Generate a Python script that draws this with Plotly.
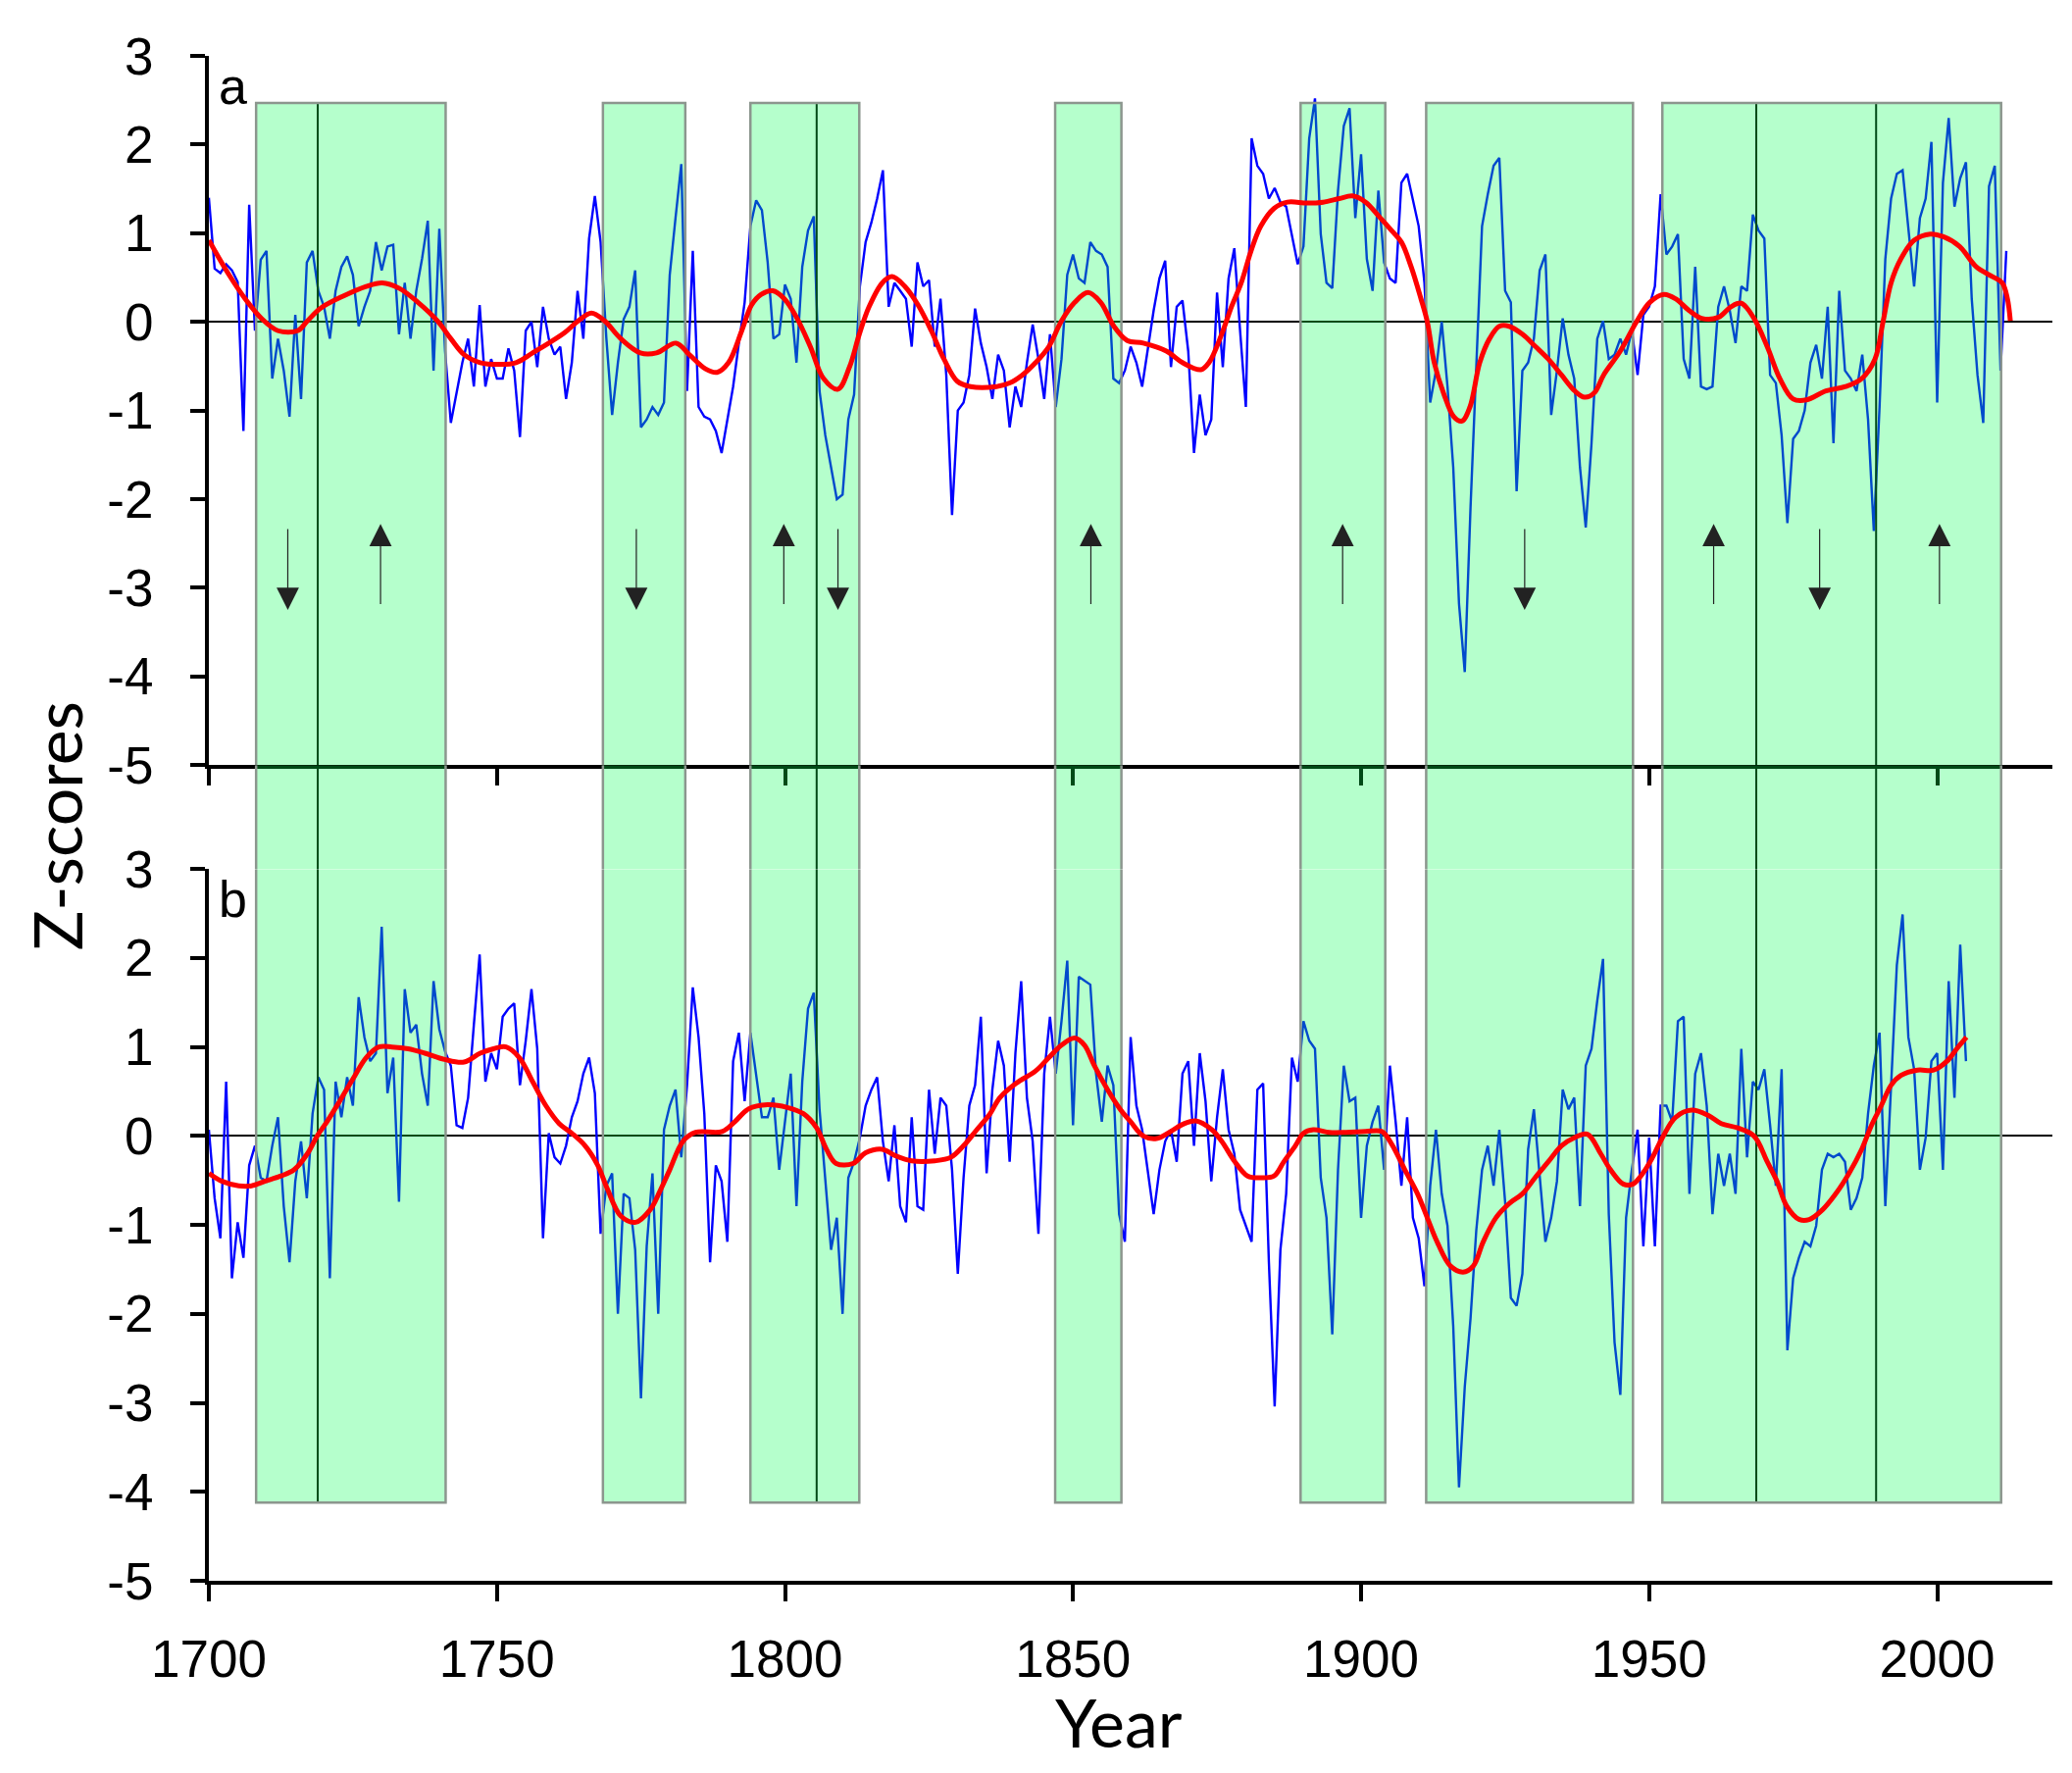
import plotly.graph_objects as go
from plotly.subplots import make_subplots

# annual z-scores, panel a (1700-2012) and panel b (1700-2005)
years_a = list(range(1700, 2013))
z_a = [
    1.40, 0.60, 0.55, 0.65, 0.58, 0.45, -1.23, 1.32, -0.10, 0.70,
    0.80, -0.64, -0.19, -0.55, -1.07, 0.08, -0.87, 0.67, 0.80, 0.35,
    0.17, -0.19, 0.35, 0.62, 0.74, 0.53, -0.05, 0.17, 0.35, 0.90,
    0.58, 0.85, 0.87, -0.14, 0.44, -0.19, 0.35, 0.71, 1.14, -0.55,
    1.05, -0.33, -1.14, -0.82, -0.46, -0.19, -0.73, 0.19, -0.73, -0.42,
    -0.64, -0.64, -0.30, -0.55, -1.30, -0.10, 0.00, -0.51, 0.17, -0.19,
    -0.37, -0.28, -0.87, -0.46, 0.35, -0.19, 0.94, 1.42, 0.90, -0.19,
    -1.05, -0.46, 0.03, 0.17, 0.58, -1.19, -1.10, -0.96, -1.05, -0.91,
    0.53, 1.17, 1.78, -0.78, 0.80, -0.96, -1.07, -1.10, -1.23, -1.48,
    -1.10, -0.73, -0.24, 0.22, 1.08, 1.37, 1.26, 0.67, -0.19, -0.14,
    0.42, 0.26, -0.46, 0.62, 1.03, 1.19, -0.78, -1.28, -1.64, -2.00,
    -1.95, -1.10, -0.82, 0.40, 0.90, 1.12, 1.39, 1.71, 0.17, 0.44,
    0.35, 0.26, -0.28, 0.67, 0.40, 0.47, -0.28, 0.26, -0.60, -2.18,
    -1.00, -0.91, -0.60, 0.15, -0.24, -0.51, -0.87, -0.37, -0.55, -1.19,
    -0.73, -0.96, -0.46, -0.03, -0.42, -0.87, -0.14, -0.96, -0.42, 0.53,
    0.76, 0.49, 0.44, 0.90, 0.80, 0.76, 0.62, -0.64, -0.69, -0.55,
    -0.28, -0.46, -0.73, -0.28, 0.13, 0.49, 0.69, -0.51, 0.17, 0.24,
    -0.33, -1.48, -0.82, -1.28, -1.10, 0.33, -0.51, 0.49, 0.83, -0.10,
    -0.96, 2.07, 1.76, 1.67, 1.39, 1.51, 1.35, 1.30, 0.99, 0.65,
    0.85, 2.07, 2.52, 0.99, 0.44, 0.38, 1.48, 2.21, 2.41, 1.17,
    1.89, 0.71, 0.35, 1.48, 0.67, 0.49, 0.44, 1.57, 1.67, 1.39,
    1.08, 0.44, -0.91, -0.55, 0.00, -0.73, -1.64, -3.18, -3.95, -2.09,
    -0.55, 1.08, 1.44, 1.76, 1.85, 0.35, 0.22, -1.91, -0.55, -0.46,
    -0.19, 0.58, 0.76, -1.05, -0.55, 0.04, -0.37, -0.64, -1.64, -2.32,
    -1.37, -0.19, 0.01, -0.42, -0.37, -0.19, -0.37, -0.10, -0.60, 0.08,
    0.17, 0.40, 1.44, 0.76, 0.85, 0.99, -0.42, -0.64, 0.62, -0.73,
    -0.76, -0.73, 0.17, 0.40, 0.13, -0.24, 0.40, 0.35, 1.21, 1.03,
    0.94, -0.60, -0.69, -1.28, -2.27, -1.32, -1.23, -1.00, -0.46, -0.26,
    -0.64, 0.17, -1.37, 0.35, -0.55, -0.64, -0.78, -0.37, -1.10, -2.36,
    -0.96, 0.71, 1.39, 1.67, 1.71, 1.08, 0.40, 1.17, 1.39, 2.03,
    -0.91, 1.57, 2.30, 1.30, 1.62, 1.80, 0.26, -0.60, -1.14, 1.53,
    1.76, -0.55, 0.80,
]

years_b = list(range(1700, 2006))
z_b = [
    0.07, -0.70, -1.15, 0.61, -1.60, -0.97, -1.37, -0.33, -0.11, -0.47,
    -0.51, -0.11, 0.21, -0.79, -1.42, -0.51, -0.06, -0.70, 0.25, 0.66,
    0.52, -1.60, 0.61, 0.21, 0.66, 0.34, 1.56, 1.11, 0.84, 0.93,
    2.35, 0.48, 0.88, -0.74, 1.65, 1.16, 1.25, 0.70, 0.34, 1.74,
    1.20, 0.95, 0.79, 0.12, 0.09, 0.43, 1.25, 2.04, 0.61, 0.93,
    0.75, 1.34, 1.43, 1.49, 0.57, 1.07, 1.65, 0.98, -1.15, 0.03,
    -0.24, -0.31, -0.11, 0.21, 0.39, 0.70, 0.88, 0.48, -1.10, -0.56,
    -0.42, -2.00, -0.65, -0.70, -1.28, -2.95, -1.24, -0.42, -2.00, 0.07,
    0.34, 0.52, -0.24, 0.57, 1.67, 1.11, 0.25, -1.42, -0.33, -0.51,
    -1.19, 0.84, 1.16, 0.39, 1.16, 0.70, 0.21, 0.21, 0.43, -0.38,
    0.16, 0.70, -0.79, 0.61, 1.43, 1.61, 0.30, -0.47, -1.28, -0.92,
    -2.00, -0.47, -0.29, -0.02, 0.34, 0.52, 0.66, -0.06, -0.51, 0.12,
    -0.79, -0.97, 0.21, -0.79, -0.83, 0.52, -0.20, 0.43, 0.34, -0.38,
    -1.55, -0.47, 0.34, 0.57, 1.34, -0.42, 0.52, 1.07, 0.79, -0.29,
    0.93, 1.74, 0.43, -0.06, -1.10, 0.70, 1.34, 0.70, 1.29, 1.97,
    0.12, 1.79, 1.74, 1.70, 0.70, 0.16, 0.79, 0.57, -0.88, -1.19,
    1.11, 0.34, 0.07, -0.38, -0.88, -0.38, -0.06, 0.07, -0.29, 0.70,
    0.84, -0.11, 0.93, 0.39, -0.51, 0.21, 0.75, 0.07, -0.20, -0.83,
    -1.01, -1.19, 0.52, 0.59, -1.42, -3.04, -1.28, -0.65, 0.88, 0.61,
    1.29, 1.07, 0.98, -0.47, -0.92, -2.23, -0.38, 0.79, 0.39, 0.43,
    -0.92, -0.11, 0.16, 0.34, -0.38, 0.79, 0.16, -0.56, 0.21, -0.92,
    -1.15, -1.69, -0.56, 0.07, -0.65, -1.01, -2.14, -3.95, -2.82, -2.05,
    -1.06, -0.38, -0.11, -0.56, 0.07, -0.74, -1.82, -1.91, -1.55, -0.15,
    0.30, -0.47, -1.19, -0.92, -0.51, 0.52, 0.30, 0.43, -0.79, 0.79,
    0.98, 1.52, 1.99, -0.88, -2.32, -2.91, -0.92, -0.38, 0.07, -1.24,
    -0.02, -1.24, 0.34, 0.34, 0.16, 1.29, 1.34, -0.65, 0.70, 0.93,
    0.34, -0.88, -0.20, -0.56, -0.20, -0.65, 0.98, -0.24, 0.61, 0.52,
    0.75, 0.12, -0.56, 0.75, -2.41, -1.60, -1.37, -1.19, -1.24, -1.01,
    -0.38, -0.20, -0.24, -0.20, -0.29, -0.83, -0.70, -0.47, 0.25, 0.79,
    1.16, -0.79, 0.61, 1.92, 2.49, 1.11, 0.75, -0.38, -0.02, 0.84,
    0.93, -0.38, 1.74, 0.43, 2.15, 0.84,
]

# smoothed (low-pass) curves: (year, value)
smooth_a_pts = [
    (1700, 0.92), (1703.5, 0.53), (1706.3, 0.26), (1709.1, 0.04), (1712, -0.10),
    (1715.4, -0.10), (1717.1, 0.01), (1719.3, 0.15), (1723.3, 0.29), (1727.3, 0.40),
    (1730.1, 0.44), (1733, 0.38), (1736.3, 0.22), (1739.7, 0.01), (1742, -0.19),
    (1744.3, -0.37), (1747.1, -0.46), (1750.5, -0.48), (1753.3, -0.46), (1756.2, -0.35),
    (1759, -0.24), (1761.8, -0.12), (1764.1, 0.01), (1766.4, 0.10), (1768.7, 0.01),
    (1771.5, -0.19), (1774.9, -0.35), (1777.7, -0.35), (1781.1, -0.24), (1783.4, -0.37),
    (1786.2, -0.53), (1788.2, -0.57), (1790.2, -0.46), (1792.5, -0.10), (1794.2, 0.19),
    (1795.9, 0.31), (1797.9, 0.35), (1799.9, 0.26), (1802.1, 0.04), (1804.4, -0.28),
    (1806.7, -0.64), (1809.2, -0.76), (1811.2, -0.51), (1812.9, -0.14), (1814.6, 0.17),
    (1816.9, 0.44), (1818.6, 0.51), (1820.8, 0.40), (1823.1, 0.19), (1825.4, -0.10),
    (1827.6, -0.42), (1829.9, -0.67), (1832.2, -0.73), (1836.7, -0.73), (1839, -0.69),
    (1841.2, -0.60), (1843.5, -0.46), (1845.8, -0.28), (1848, 0.01), (1850.3, 0.22),
    (1852.6, 0.33), (1854.8, 0.22), (1857.1, -0.05), (1859.4, -0.21), (1862.2, -0.24),
    (1866.2, -0.33), (1869, -0.46), (1872.2, -0.54), (1873.6, -0.46), (1875.8, -0.14),
    (1877.5, 0.17), (1879.2, 0.44), (1880.9, 0.80), (1882.6, 1.08), (1884.9, 1.28),
    (1887.2, 1.35), (1890.6, 1.34), (1893.4, 1.35), (1896.2, 1.39), (1898.5, 1.42),
    (1900.8, 1.35), (1903.1, 1.19), (1905.3, 1.03), (1907, 0.90), (1908.7, 0.62),
    (1910.4, 0.26), (1911.5, 0.00), (1912.7, -0.46), (1914.4, -0.82), (1916.1, -1.07),
    (1917.5, -1.12), (1918.9, -0.96), (1920.6, -0.46), (1922.3, -0.19), (1924, -0.05),
    (1925.7, -0.05), (1928, -0.14), (1930.3, -0.28), (1932.5, -0.42), (1934.8, -0.60),
    (1937.1, -0.78), (1938.8, -0.85), (1940.5, -0.80), (1942.1, -0.60), (1945, -0.33),
    (1947.8, 0.00), (1950.1, 0.22), (1952.6, 0.31), (1954.6, 0.26), (1956.9, 0.13),
    (1959.1, 0.04), (1962, 0.05), (1964.2, 0.17), (1966, 0.21), (1968.2, 0.04),
    (1970.5, -0.28), (1972.7, -0.64), (1975, -0.87), (1977.3, -0.88), (1980.7, -0.78),
    (1984.1, -0.73), (1986.9, -0.64), (1989.2, -0.42), (1990.6, 0.00), (1992, 0.44),
    (1993.7, 0.71), (1996, 0.92), (1998.8, 0.99), (2001.1, 0.96), (2003.9, 0.85),
    (2006.8, 0.62), (2009.6, 0.51), (2011.3, 0.44), (2012.2, 0.26), (2012.7, 0.01),
]

smooth_b_pts = [
    (1700, -0.42), (1702.3, -0.51), (1705.2, -0.56), (1707.4, -0.56), (1709.7, -0.51),
    (1712.5, -0.45), (1714.8, -0.38), (1717.1, -0.20), (1718.8, 0.00), (1720.5, 0.16),
    (1722.7, 0.39), (1725, 0.64), (1727.3, 0.88), (1729.5, 1.00), (1731.8, 1.00),
    (1734.6, 0.98), (1737.5, 0.93), (1740.9, 0.86), (1744.3, 0.83), (1747.1, 0.93),
    (1749.4, 0.98), (1751.6, 1.00), (1753.9, 0.88), (1756.2, 0.61), (1758.5, 0.34),
    (1760.8, 0.14), (1763, 0.03), (1765.3, -0.11), (1767.5, -0.33), (1769.2, -0.60),
    (1771.5, -0.90), (1774.1, -0.97), (1776.6, -0.83), (1778.3, -0.62), (1780, -0.38),
    (1782.3, -0.06), (1784.5, 0.04), (1789.1, 0.05), (1791.3, 0.16), (1793.6, 0.30),
    (1797, 0.35), (1800.4, 0.32), (1803.2, 0.25), (1805.5, 0.09), (1807.2, -0.15),
    (1808.9, -0.31), (1811.8, -0.31), (1814, -0.19), (1816.9, -0.15), (1819.1, -0.22),
    (1822, -0.28), (1826, -0.28), (1828.8, -0.24), (1831, -0.11), (1833.3, 0.07),
    (1835.6, 0.25), (1837.3, 0.43), (1840.1, 0.59), (1843.5, 0.73), (1845.8, 0.88),
    (1848, 1.02), (1850.3, 1.10), (1852, 1.02), (1853.7, 0.79), (1856, 0.52),
    (1858.2, 0.30), (1860, 0.16), (1862.2, 0.00), (1864.5, -0.03), (1866.7, 0.04),
    (1869, 0.13), (1871.3, 0.17), (1874.1, 0.07), (1875.8, -0.06), (1878.1, -0.29),
    (1880.3, -0.45), (1882.6, -0.47), (1884.9, -0.45), (1886.6, -0.29), (1888.6, -0.11),
    (1890, 0.03), (1891.7, 0.07), (1894.5, 0.04), (1897.4, 0.04), (1900.8, 0.05),
    (1903.6, 0.05), (1905.3, -0.09), (1907.6, -0.38), (1909.8, -0.65), (1911.5, -0.92),
    (1913.2, -1.19), (1915.5, -1.46), (1917.7, -1.53), (1919.5, -1.46), (1921.2, -1.19),
    (1923.4, -0.92), (1925.7, -0.76), (1928, -0.65), (1930.2, -0.47), (1932.5, -0.29),
    (1934.8, -0.11), (1937, -0.02), (1939.3, 0.02), (1941.6, -0.20), (1943.3, -0.38),
    (1945.5, -0.54), (1947.2, -0.54), (1948.9, -0.42), (1950.6, -0.24), (1952.3, -0.02),
    (1954.6, 0.21), (1957.4, 0.29), (1960.3, 0.23), (1962.5, 0.14), (1965.4, 0.09),
    (1968.2, 0.00), (1970.5, -0.29), (1972.2, -0.51), (1973.9, -0.79), (1976.1, -0.94),
    (1977.8, -0.94), (1980.1, -0.83), (1982.4, -0.65), (1984.7, -0.42), (1986.9, -0.15),
    (1988.6, 0.12), (1990.3, 0.34), (1992, 0.57), (1993.7, 0.68), (1996.6, 0.74),
    (1999.4, 0.74), (2001.7, 0.84), (2003.4, 0.98), (2005.1, 1.11),
]

# shaded periods and the sub-period dividers
band_start = [1708.2, 1768.4, 1794.0, 1846.9, 1889.5, 1911.3, 1952.3]
band_end = [1741.1, 1782.7, 1812.9, 1858.4, 1904.2, 1947.2, 2011.1]
band_split = [1718.9, 1805.5, 1968.6, 1989.4]

# arrows in panel a
arrow_up_years = [1729.8, 1799.8, 1853.1, 1896.8, 1961.2, 2000.4]
arrow_down_years = [1713.7, 1774.2, 1809.2, 1928.4, 1979.6]

x_tick_vals = [1700, 1750, 1800, 1850, 1900, 1950, 2000]
y_tick_vals = [-5, -4, -3, -2, -1, 0, 1, 2, 3]
y_tick_text = ["-5", "-4", "-3", "-2", "-1", "0", "1", "2", "3"]

BAND_FILL = "rgba(0,255,79,0.29)"
BAND_EDGE = "#8c968e"
TICK_FONT = dict(family="Liberation Sans, Arial", size=53, color="black")
TITLE_FONT = dict(family="Lato", size=68, color="black")

# row 1 = panel a, row 2 = gap the bands run through, row 3 = panel b
fig = make_subplots(rows=3, cols=1, row_heights=[723.4, 106, 726], vertical_spacing=0)

# vertical extent of the shading in each row (data units of that row)
extent = {1: (-5, 2.47), 2: (0, 1), 3: (-4.12, 3)}


def band_fill(lo, hi):
    xs, ys = [], []
    for x0, x1 in zip(band_start, band_end):
        xs += [x0, x0, x1, x1, x0, None]
        ys += [lo, hi, hi, lo, lo, None]
    return xs, ys


def band_edges(row, lo, hi):
    xs, ys = [], []
    for x0, x1 in zip(band_start, band_end):
        if row == 1:
            xs += [x0, x0, x1, x1, None]
            ys += [lo, hi, hi, lo, None]
        elif row == 3:
            xs += [x0, x0, x1, x1, None]
            ys += [hi, lo, lo, hi, None]
        else:
            xs += [x0, x0, None, x1, x1, None]
            ys += [lo, hi, None, lo, hi, None]
    return xs, ys


def splits(lo, hi):
    xs, ys = [], []
    for s in band_split:
        xs += [s, s, None]
        ys += [lo, hi, None]
    return xs, ys


for row in (1, 2, 3):
    lo, hi = extent[row]
    if row == 1:
        fig.add_trace(go.Scatter(x=years_a, y=z_a, mode="lines",
                                 line=dict(color="#0000ff", width=2.4)), row=1, col=1)
    if row == 3:
        fig.add_trace(go.Scatter(x=years_b, y=z_b, mode="lines",
                                 line=dict(color="#0000ff", width=2.4)), row=3, col=1)

    sx, sy = splits(lo, hi)
    fig.add_trace(go.Scatter(x=sx, y=sy, mode="lines",
                             line=dict(color="black", width=2)), row=row, col=1)

    fx, fy = band_fill(lo, hi)
    fig.add_trace(go.Scatter(x=fx, y=fy, mode="lines", fill="toself", fillcolor=BAND_FILL,
                             line=dict(width=0)), row=row, col=1)

    ex, ey = band_edges(row, lo, hi)
    fig.add_trace(go.Scatter(x=ex, y=ey, mode="lines",
                             line=dict(color=BAND_EDGE, width=2.5)), row=row, col=1)

    if row == 1:
        fig.add_trace(go.Scatter(x=[p[0] for p in smooth_a_pts], y=[p[1] for p in smooth_a_pts],
                                 mode="lines", line=dict(color="#ff0000", width=5, shape="spline")),
                      row=1, col=1)
    if row == 3:
        fig.add_trace(go.Scatter(x=[p[0] for p in smooth_b_pts], y=[p[1] for p in smooth_b_pts],
                                 mode="lines", line=dict(color="#ff0000", width=5, shape="spline")),
                      row=3, col=1)

axis_common = dict(showgrid=False, showline=True, linecolor="black", linewidth=4,
                   ticks="outside", tickcolor="black", tickwidth=3.5)

fig.update_xaxes(range=[1700, 2020], zeroline=False, tickvals=x_tick_vals, ticklen=17,
                 **axis_common)
fig.update_xaxes(showticklabels=False, layer="below traces", row=1, col=1)
fig.update_xaxes(visible=False, row=2, col=1)
fig.update_xaxes(showticklabels=True, tickfont=TICK_FONT, ticklabelstandoff=13, row=3, col=1)

fig.update_yaxes(range=[-5, 3], tickvals=y_tick_vals, ticktext=y_tick_text, ticklen=15,
                 tickfont=TICK_FONT, ticklabelstandoff=27, zeroline=True,
                 zerolinecolor="black", zerolinewidth=2.2, **axis_common)
fig.update_yaxes(visible=False, range=[0, 1], row=2, col=1)

annotations = []
for u in arrow_up_years:
    annotations.append(dict(x=u, y=-2.28, ax=u, ay=-3.2, xref="x", yref="y", axref="x", ayref="y",
                            text="", showarrow=True, arrowhead=2, arrowsize=3.8, arrowwidth=1.2,
                            arrowcolor="#222222"))
for d in arrow_down_years:
    annotations.append(dict(x=d, y=-3.25, ax=d, ay=-2.32, xref="x", yref="y", axref="x", ayref="y",
                            text="", showarrow=True, arrowhead=2, arrowsize=3.8, arrowwidth=1.2,
                            arrowcolor="#222222"))

annotations.append(dict(x=1700, y=3, xref="x", yref="y", text="a", showarrow=False,
                        xanchor="left", yanchor="top", xshift=8,
                        font=dict(family="Liberation Sans, Arial", size=52, color="black")))
annotations.append(dict(x=1700, y=3, xref="x3", yref="y3", text="b", showarrow=False,
                        xanchor="left", yanchor="top", xshift=8,
                        font=dict(family="Liberation Sans, Arial", size=52, color="black")))
annotations.append(dict(x=0, y=0.495, xref="paper", yref="paper", text="Z-scores", showarrow=False,
                        textangle=-90, xanchor="center", yanchor="middle", xshift=-156,
                        font=TITLE_FONT))
annotations.append(dict(x=0.4936, y=-0.0926, xref="paper", yref="paper", text="Year",
                        showarrow=False, xanchor="center", yanchor="middle", font=TITLE_FONT))

fig.update_layout(
    width=2097, height=1792,
    margin=dict(l=205, r=12, t=49, b=188),
    paper_bgcolor="white", plot_bgcolor="white",
    showlegend=False, hovermode=False,
    annotations=annotations,
)

fig.write_html("out.html")
